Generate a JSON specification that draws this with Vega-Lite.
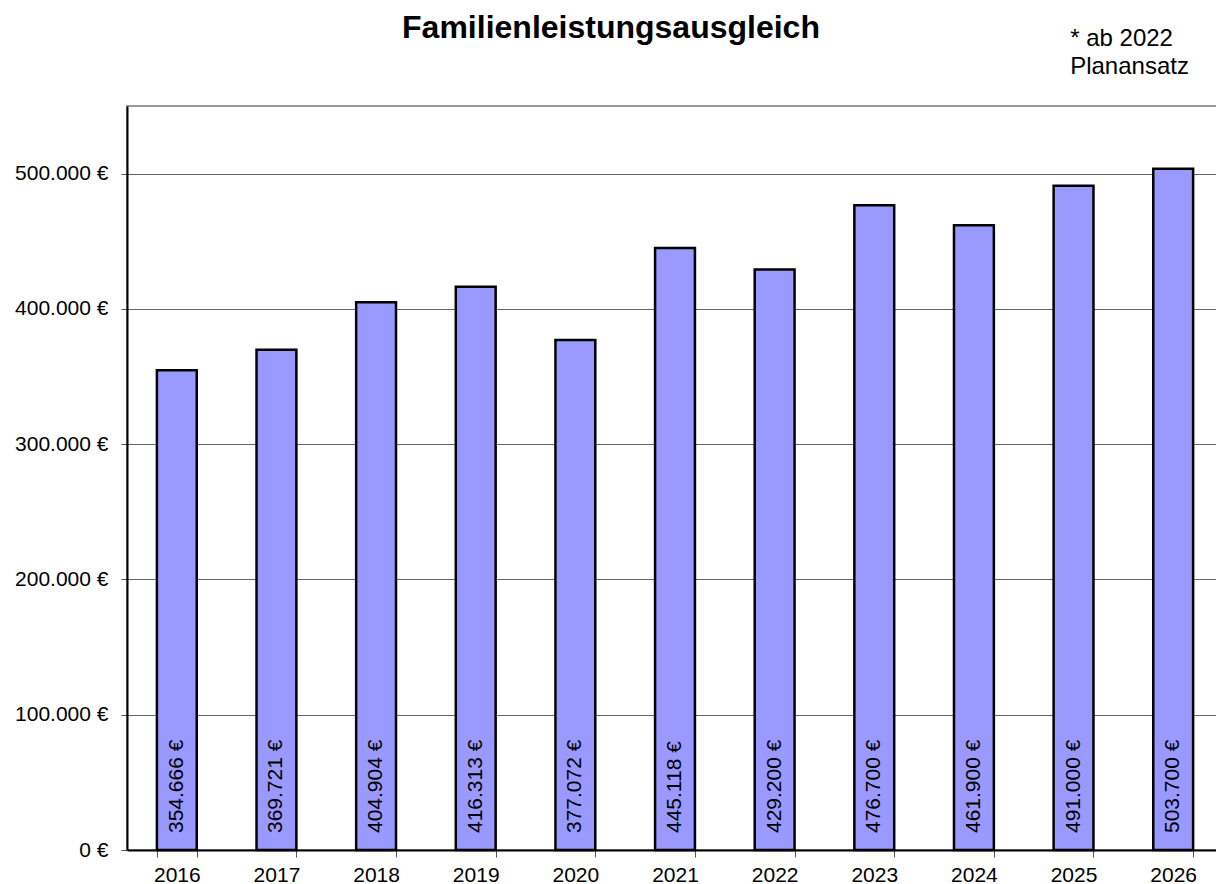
{
  "$schema": "https://vega.github.io/schema/vega-lite/v6.json",
  "width": 1096,
  "height": 744,
  "autosize": {"type": "none"},
  "padding": {"left": 127, "top": 106, "right": 0, "bottom": 34},
  "background": "white",
  "title": {
    "text": "Familienleistungsausgleich",
    "font": "Liberation Sans",
    "fontSize": 32,
    "fontWeight": "bold",
    "color": "black",
    "anchor": "middle",
    "frame": "group",
    "baseline": "alphabetic",
    "dx": -64,
    "offset": -43
  },
  "data": {
    "values": [
      {"year": "2016", "value": 354666},
      {"year": "2017", "value": 369721},
      {"year": "2018", "value": 404904},
      {"year": "2019", "value": 416313},
      {"year": "2020", "value": 377072},
      {"year": "2021", "value": 445118},
      {"year": "2022", "value": 429200},
      {"year": "2023", "value": 476700},
      {"year": "2024", "value": 461900},
      {"year": "2025", "value": 491000},
      {"year": "2026", "value": 503700}
    ]
  },
  "encoding": {
    "x": {
      "field": "year",
      "type": "nominal",
      "scale": {"paddingInner": 0.6, "paddingOuter": 0.3},
      "axis": {
        "title": null,
        "labelAngle": 0,
        "labelFont": "Liberation Sans",
        "labelFontSize": 21,
        "labelColor": "black",
        "labelPadding": 7,
        "domainColor": "black",
        "domainWidth": 2,
        "tickColor": "#555",
        "tickSize": 7,
        "tickBand": "extent",
        "grid": false
      }
    }
  },
  "layer": [
    {
      "mark": {"type": "bar", "fill": "#9999FF", "stroke": "black", "strokeWidth": 2.5},
      "encoding": {
        "y": {
          "field": "value",
          "type": "quantitative",
          "scale": {"domain": [0, 550000], "nice": false},
          "axis": {
            "title": null,
            "values": [0, 100000, 200000, 300000, 400000, 500000],
            "format": "$,.0f",
            "labelFont": "Liberation Sans",
            "labelFontSize": 21,
            "labelColor": "black",
            "labelPadding": 13,
            "domainColor": "black",
            "domainWidth": 2,
            "tickColor": "#555",
            "tickSize": 6,
            "grid": true,
            "gridColor": "#666",
            "gridWidth": 1
          }
        }
      }
    },
    {
      "mark": {
        "type": "text",
        "angle": 270,
        "align": "left",
        "baseline": "middle",
        "dx": 17,
        "font": "Liberation Sans",
        "fontSize": 21,
        "color": "black"
      },
      "encoding": {
        "y": {"datum": 0, "type": "quantitative"},
        "text": {"field": "value", "type": "quantitative", "format": "$,.0f"}
      }
    },
    {
      "data": {"values": [{"note": ["* ab 2022", "Planansatz"]}]},
      "mark": {
        "type": "text",
        "align": "left",
        "baseline": "alphabetic",
        "dx": -103,
        "font": "Liberation Sans",
        "fontSize": 24,
        "lineHeight": 28,
        "color": "black",
        "clip": false
      },
      "encoding": {
        "x": {"datum": "2026"},
        "y": {"datum": 594000, "type": "quantitative"},
        "text": {"field": "note"}
      }
    }
  ],
  "config": {
    "locale": {
      "number": {
        "decimal": ",",
        "thousands": ".",
        "grouping": [3],
        "currency": ["", " €"]
      }
    },
    "view": {"stroke": "#999", "strokeWidth": 2}
  }
}
